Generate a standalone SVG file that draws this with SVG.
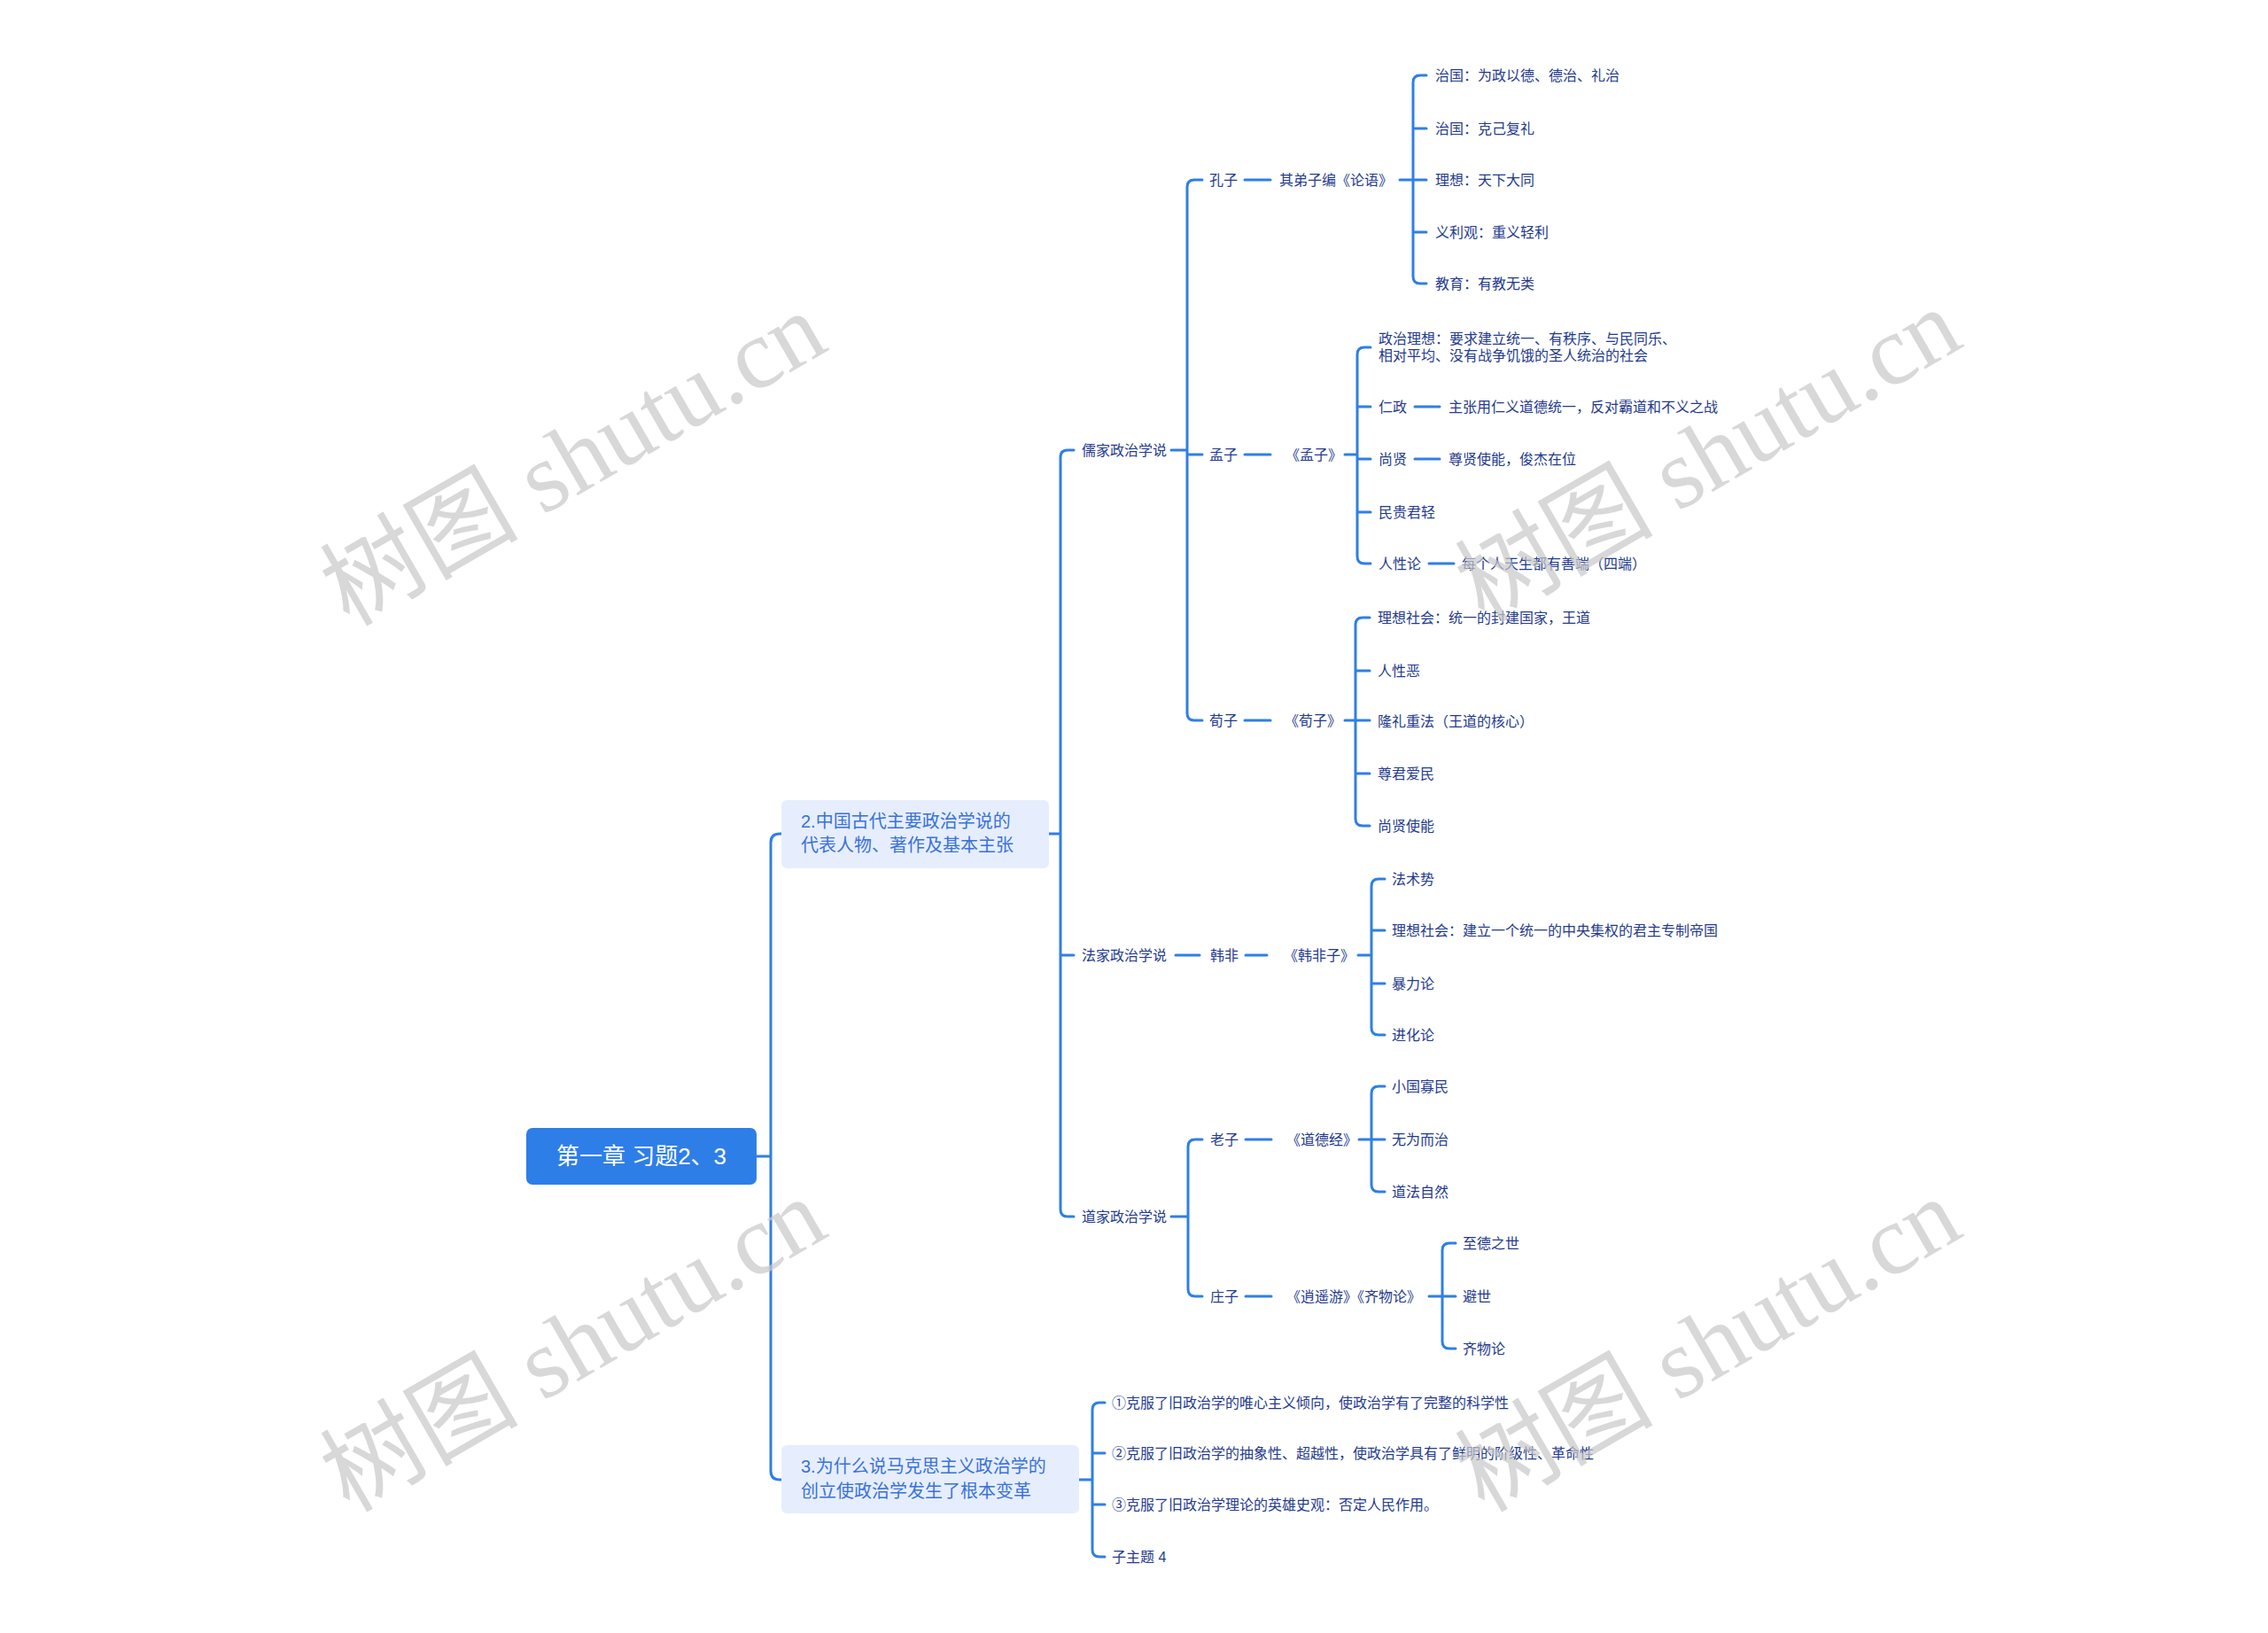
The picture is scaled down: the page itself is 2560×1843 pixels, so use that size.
<svg xmlns="http://www.w3.org/2000/svg" width="2560" height="1843" viewBox="0 0 2560 1843">
<style>
.ln{fill:none;stroke:#2f7fe6;stroke-width:3;stroke-linecap:round;stroke-linejoin:round}
.t{font-family:"Liberation Sans","Noto Sans CJK SC",sans-serif;font-size:16px;fill:#243a8c;dominant-baseline:central}
.m{font-family:"Liberation Sans","Noto Sans CJK SC",sans-serif;font-size:20px;fill:#3a72d8;dominant-baseline:central}
.r{font-family:"Liberation Sans","Noto Sans CJK SC",sans-serif;font-size:26px;fill:#ffffff;dominant-baseline:central;text-anchor:middle}
.box{fill:#e6eefd}
.wm{font-family:"Liberation Serif","Noto Sans CJK SC",serif;font-size:112px;fill:#c8c8c8;fill-opacity:0.7;text-anchor:middle;dominant-baseline:central}
</style>
<rect width="2560" height="1843" fill="#ffffff"/>
<g id="connectors">
<path class="ln" d="M854,1305 H870 M882,941 H880 Q870,941 870,951 V1660 Q870,1670 880,1670 H882"/>
<path class="ln" d="M1184,941 H1197 M1212,508 H1205 Q1197,508 1197,516 V1365 Q1197,1373 1205,1373 H1212 M1197,1078 H1212"/>
<path class="ln" d="M1322,508 H1340 M1357,203 H1348 Q1340,203 1340,211 V805 Q1340,813 1348,813 H1357 M1340,513 H1357"/>
<path class="ln" d="M1405,203 H1434 M1580,203 H1610 M1610,85 H1603 Q1595,85 1595,93 V312 Q1595,320 1603,320 H1610 M1595,145 H1610 M1595,262 H1610"/>
<path class="ln" d="M1405,513 H1434 M1518,513 H1532 M1547,392 H1540 Q1532,392 1532,400 V628 Q1532,636 1540,636 H1547 M1532,459 H1547 M1532,518 H1547 M1532,578 H1547 M1597,459 H1625 M1597,518 H1625 M1613,636 H1641"/>
<path class="ln" d="M1405,813 H1434 M1518,813 H1546 M1546,697 H1538 Q1530,697 1530,705 V924 Q1530,932 1538,932 H1546 M1530,757 H1546 M1530,873 H1546"/>
<path class="ln" d="M1327,1078 H1354 M1406,1078 H1430 M1533,1078 H1548 M1563,992 H1556 Q1548,992 1548,1000 V1160 Q1548,1168 1556,1168 H1563 M1548,1050 H1563 M1548,1110 H1563"/>
<path class="ln" d="M1322,1373 H1341 M1357,1286 H1349 Q1341,1286 1341,1294 V1455 Q1341,1463 1349,1463 H1357"/>
<path class="ln" d="M1406,1286 H1435 M1534,1286 H1563 M1563,1226 H1556 Q1548,1226 1548,1234 V1337 Q1548,1345 1556,1345 H1563"/>
<path class="ln" d="M1406,1463 H1435 M1613,1463 H1643 M1643,1403 H1636 Q1628,1403 1628,1411 V1514 Q1628,1522 1636,1522 H1643"/>
<path class="ln" d="M1218,1670 H1233 M1247,1583 H1241 Q1233,1583 1233,1591 V1749 Q1233,1757 1241,1757 H1247 M1233,1640 H1247 M1233,1698 H1247"/>
</g>
<g id="root"><rect x="594" y="1273" width="260" height="64" rx="7" fill="#2e7ee8"/><text class="r" x="724" y="1305">第一章 习题2、3</text></g>
<g id="n2"><rect class="box" x="882" y="903" width="302" height="77" rx="6"/><text class="m" x="904" y="927">2.中国古代主要政治学说的</text><text class="m" x="904" y="954">代表人物、著作及基本主张</text></g>
<g id="n3"><rect class="box" x="882" y="1631" width="336" height="77" rx="6"/><text class="m" x="904" y="1655">3.为什么说马克思主义政治学的</text><text class="m" x="904" y="1683">创立使政治学发生了根本变革</text></g>
<g id="rujia"><text class="t" x="1221" y="508">儒家政治学说</text></g>
<g id="kongzi"><text class="t" x="1365" y="203">孔子</text><text class="t" x="1444" y="203">其弟子编《论语》</text></g>
<g id="kz1"><text class="t" x="1620" y="85">治国：为政以德、德治、礼治</text></g>
<g id="kz2"><text class="t" x="1620" y="145">治国：克己复礼</text></g>
<g id="kz3"><text class="t" x="1620" y="203">理想：天下大同</text></g>
<g id="kz4"><text class="t" x="1620" y="262">义利观：重义轻利</text></g>
<g id="kz5"><text class="t" x="1620" y="320">教育：有教无类</text></g>
<g id="mengzi"><text class="t" x="1365" y="513">孟子</text><text class="t" x="1451" y="513">《孟子》</text></g>
<g id="mz1"><text class="t" x="1556" y="382">政治理想：要求建立统一、有秩序、与民同乐、</text><text class="t" x="1556" y="401">相对平均、没有战争饥饿的圣人统治的社会</text></g>
<g id="mz2"><text class="t" x="1556" y="459">仁政</text><text class="t" x="1635" y="459">主张用仁义道德统一，反对霸道和不义之战</text></g>
<g id="mz3"><text class="t" x="1556" y="518">尚贤</text><text class="t" x="1635" y="518">尊贤使能，俊杰在位</text></g>
<g id="mz4"><text class="t" x="1556" y="578">民贵君轻</text></g>
<g id="mz5"><text class="t" x="1556" y="636">人性论</text><text class="t" x="1650" y="636">每个人天生都有善端（四端）</text></g>
<g id="xunzi"><text class="t" x="1365" y="813">荀子</text><text class="t" x="1450" y="813">《荀子》</text></g>
<g id="xz1"><text class="t" x="1555" y="697">理想社会：统一的封建国家，王道</text></g>
<g id="xz2"><text class="t" x="1555" y="757">人性恶</text></g>
<g id="xz3"><text class="t" x="1555" y="814">隆礼重法（王道的核心）</text></g>
<g id="xz4"><text class="t" x="1555" y="873">尊君爱民</text></g>
<g id="xz5"><text class="t" x="1555" y="932">尚贤使能</text></g>
<g id="fajia"><text class="t" x="1221" y="1078">法家政治学说</text><text class="t" x="1366" y="1078">韩非</text><text class="t" x="1449" y="1078">《韩非子》</text></g>
<g id="hf1"><text class="t" x="1571" y="992">法术势</text></g>
<g id="hf2"><text class="t" x="1571" y="1050">理想社会：建立一个统一的中央集权的君主专制帝国</text></g>
<g id="hf3"><text class="t" x="1571" y="1110">暴力论</text></g>
<g id="hf4"><text class="t" x="1571" y="1168">进化论</text></g>
<g id="daojia"><text class="t" x="1221" y="1373">道家政治学说</text></g>
<g id="laozi"><text class="t" x="1366" y="1286">老子</text><text class="t" x="1452" y="1286">《道德经》</text></g>
<g id="lz1"><text class="t" x="1571" y="1226">小国寡民</text></g>
<g id="lz2"><text class="t" x="1571" y="1286">无为而治</text></g>
<g id="lz3"><text class="t" x="1571" y="1345">道法自然</text></g>
<g id="zhuangzi"><text class="t" x="1366" y="1463">庄子</text><text class="t" x="1452" y="1463">《逍遥游》《齐物论》</text></g>
<g id="zz1"><text class="t" x="1651" y="1403">至德之世</text></g>
<g id="zz2"><text class="t" x="1651" y="1463">避世</text></g>
<g id="zz3"><text class="t" x="1651" y="1522">齐物论</text></g>
<g id="b1"><text class="t" x="1255" y="1583">①克服了旧政治学的唯心主义倾向，使政治学有了完整的科学性</text></g>
<g id="b2"><text class="t" x="1255" y="1640">②克服了旧政治学的抽象性、超越性，使政治学具有了鲜明的阶级性、革命性</text></g>
<g id="b3"><text class="t" x="1255" y="1698">③克服了旧政治学理论的英雄史观：否定人民作用。</text></g>
<g id="b4"><text class="t" x="1255" y="1757">子主题 4</text></g>
<g id="watermarks">
<text class="wm" transform="translate(647,518) rotate(-30)">树图 shutu.cn</text>
<text class="wm" transform="translate(1928,514) rotate(-30)">树图 shutu.cn</text>
<text class="wm" transform="translate(647,1518) rotate(-30)">树图 shutu.cn</text>
<text class="wm" transform="translate(1928,1518) rotate(-30)">树图 shutu.cn</text>
</g>
</svg>
